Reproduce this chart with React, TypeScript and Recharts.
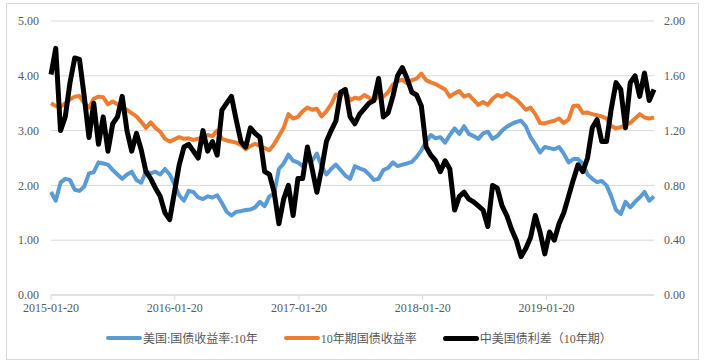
import React from "react";
import { CartesianGrid, Legend, Line, LineChart, XAxis, YAxis } from "recharts";

// 数据：两周一个点，从 2015-01-20 开始
const START = "2015-01-20";
const STEP_DAYS = 14;

const xTickLabels = ["2015-01-20", "2016-01-20", "2017-01-20", "2018-01-20", "2019-01-20"];
const leftTicks = [0, 1, 2, 3, 4, 5];
const rightTicks = [0, 0.4, 0.8, 1.2, 1.6, 2.0];

// 美国:国债收益率:10年 (左轴)
const usYield = [
  1.88, 1.72, 2.05, 2.12, 2.1, 1.92, 1.9, 1.98, 2.22, 2.24, 2.42, 2.4, 2.38, 2.28, 2.2, 2.12, 2.2, 2.25, 2.1, 2.05,
  2.26, 2.22, 2.25, 2.2, 2.3, 2.2, 2.02, 1.82, 1.72, 1.9, 1.88, 1.78, 1.75,
  1.8, 1.78, 1.82, 1.68, 1.52, 1.45, 1.52, 1.53, 1.55, 1.56, 1.6, 1.7, 1.62, 1.8, 1.85, 2.3, 2.4, 2.56, 2.45, 2.42,
  2.35, 2.48, 2.45, 2.58, 2.35, 2.2, 2.3, 2.38, 2.28, 2.18, 2.12, 2.35,
  2.31, 2.28, 2.2, 2.1, 2.12, 2.28, 2.32, 2.42, 2.35, 2.38, 2.4, 2.43, 2.52, 2.64, 2.8, 2.92, 2.86, 2.88, 2.78, 2.92,
  3.04, 2.94, 3.08, 2.94, 2.9, 2.85, 2.95, 2.98, 2.85, 2.9, 3.0, 3.07,
  3.12, 3.16, 3.18, 3.08, 2.88, 2.75, 2.6, 2.7, 2.68, 2.66, 2.7, 2.58, 2.42, 2.48, 2.48, 2.4, 2.2, 2.12, 2.06, 2.08,
  2.0, 1.8, 1.55, 1.48, 1.7, 1.6, 1.7, 1.78, 1.88, 1.72, 1.8,
];

// 10年期国债收益率 (左轴)
const cnYield = [
  3.5, 3.45, 3.43, 3.5, 3.57, 3.62, 3.63, 3.5, 3.42, 3.58, 3.62, 3.61, 3.48, 3.53, 3.48, 3.42, 3.38, 3.32, 3.26, 3.16,
  3.05, 3.15, 3.05, 2.98, 2.85, 2.8, 2.84, 2.88, 2.85, 2.86, 2.83, 2.85, 2.88,
  2.92, 2.9, 3.0, 2.85, 2.82, 2.8, 2.78, 2.74, 2.66, 2.72, 2.76, 2.72, 2.68, 2.64, 2.75, 2.9, 3.05, 3.3, 3.22, 3.25,
  3.35, 3.42, 3.38, 3.4, 3.26, 3.35, 3.48, 3.66, 3.64, 3.72, 3.55, 3.6,
  3.58, 3.65, 3.6, 3.56, 3.62, 3.62, 3.7, 3.84, 3.9, 3.93, 3.86, 3.92, 3.95, 4.04, 3.92, 3.88, 3.85, 3.8, 3.75, 3.62,
  3.68, 3.72, 3.62, 3.65, 3.56, 3.47, 3.52, 3.47, 3.58, 3.65, 3.62, 3.68,
  3.62, 3.57, 3.48, 3.38, 3.42, 3.3, 3.14, 3.13, 3.16, 3.18, 3.22, 3.14, 3.2, 3.45, 3.46, 3.32, 3.33, 3.3, 3.28, 3.26,
  3.22, 3.08, 3.04, 3.06, 3.1, 3.14, 3.22, 3.3, 3.24, 3.22, 3.24,
];

// 中美国债利差（10年期）(右轴)
const spread = [
  1.61, 1.8, 1.2, 1.3, 1.55, 1.73, 1.72, 1.45, 1.15, 1.4, 1.1, 1.3, 1.05, 1.25, 1.3, 1.45, 1.2, 1.05, 1.18, 1.06,
  0.9, 0.85, 0.78, 0.72, 0.6, 0.55, 0.75, 0.95, 1.08, 1.1, 1.05, 1.0, 1.2,
  1.05, 1.12, 1.02, 1.35, 1.4, 1.45, 1.28, 1.12, 1.08, 1.22, 1.18, 1.15, 0.9, 0.88, 0.75, 0.52, 0.7, 0.8, 0.58, 0.85,
  0.85, 1.08, 0.92, 0.75, 0.92, 1.12, 1.2, 1.27, 1.48, 1.5, 1.3, 1.25,
  1.32, 1.36, 1.4, 1.42, 1.58, 1.3, 1.33, 1.45, 1.6, 1.66, 1.58, 1.48, 1.46, 1.38, 1.08, 1.02, 0.98, 0.9, 0.98, 0.92,
  0.62, 0.72, 0.75, 0.7, 0.68, 0.65, 0.62, 0.5, 0.8, 0.78, 0.65, 0.58,
  0.48, 0.4, 0.28, 0.34, 0.42, 0.58, 0.46, 0.3, 0.46, 0.4, 0.52, 0.6, 0.72, 0.84, 0.95, 0.9, 1.0, 1.22, 1.28, 1.12,
  1.12, 1.36, 1.55, 1.5, 1.22, 1.55, 1.6, 1.45, 1.62, 1.42, 1.5,
];

const SERIES = [
  { key: "us", name: "美国:国债收益率:10年", color: "#5B9BD5", width: 4, axis: "left" },
  { key: "cn", name: "10年期国债收益率", color: "#ED7D31", width: 4, axis: "left" },
  { key: "spread", name: "中美国债利差（10年期）", color: "#000000", width: 5, axis: "right" },
];

const DAY = 86400000;
const dayOf = (s: string) => Math.round((Date.parse(s) - Date.parse(START)) / DAY);

const data = usYield.map((v, i) => ({
  d: i * STEP_DAYS,
  us: v,
  cn: cnYield[i],
  spread: spread[i],
}));

const xTicks = xTickLabels.map(dayOf);
const lastDay = (data.length - 1) * STEP_DAYS;

const LATIN = "'Times New Roman', 'Liberation Serif', serif";
const MIXED = "'Times New Roman', 'Liberation Serif', 'Noto Sans CJK SC', serif";
const tickStyle = { fontFamily: LATIN, fontSize: 12, fill: "#595959" };

function LegendContent() {
  return (
    <div
      style={{
        display: "flex",
        alignItems: "center",
        paddingLeft: 106,
        height: 16,
        fontFamily: MIXED,
        fontSize: 12,
        color: "#595959",
        whiteSpace: "nowrap",
      }}
    >
      {SERIES.map((s) => (
        <div key={s.key} style={{ display: "flex", alignItems: "center", marginRight: 26 }}>
          <span
            style={{
              display: "inline-block",
              width: 36,
              height: s.width,
              borderRadius: 3,
              background: s.color,
              marginRight: 1,
            }}
          />
          <span>{s.name}</span>
        </div>
      ))}
    </div>
  );
}

export default function App() {
  return (
    <div style={{ position: "absolute", left: 0, top: 0, width: 704, height: 364, background: "#fff" }}>
      <div
        style={{
          position: "absolute",
          left: 6,
          top: 3,
          width: 693,
          height: 357,
          border: "1px solid #d9d9d9",
          boxSizing: "border-box",
        }}
      />
      <LineChart width={704} height={364} data={data} margin={{ top: 21, right: 0, left: 0, bottom: 0 }}>
        <CartesianGrid yAxisId="left" vertical={false} stroke="#d9d9d9" />
        <XAxis
          dataKey="d"
          type="number"
          domain={[0, lastDay]}
          ticks={xTicks}
          interval={0}
          tickFormatter={(v) => xTickLabels[xTicks.indexOf(v)] ?? ""}
          tick={tickStyle}
          stroke="#d9d9d9"
          tickSize={5}
          tickMargin={3}
          height={53}
        />
        <YAxis
          yAxisId="left"
          domain={[0, 5]}
          ticks={leftTicks}
          tickFormatter={(v) => Number(v).toFixed(2)}
          tick={tickStyle}
          axisLine={false}
          tickLine={false}
          tickSize={0}
          tickMargin={12}
          width={51}
        />
        <YAxis
          yAxisId="right"
          orientation="right"
          domain={[0, 2]}
          ticks={rightTicks}
          tickFormatter={(v) => Number(v).toFixed(2)}
          tick={tickStyle}
          axisLine={false}
          tickLine={false}
          tickSize={0}
          tickMargin={10}
          width={50}
        />
        <Legend
          verticalAlign="bottom"
          content={() => <LegendContent />}
          wrapperStyle={{ left: 0, width: 704, top: 330, height: 16 }}
        />
        {SERIES.map((s) => (
          <Line
            key={s.key}
            yAxisId={s.axis}
            type="linear"
            dataKey={s.key}
            name={s.name}
            stroke={s.color}
            strokeWidth={s.width}
            strokeLinejoin="round"
            dot={false}
            activeDot={false}
            isAnimationActive={false}
          />
        ))}
      </LineChart>
    </div>
  );
}
